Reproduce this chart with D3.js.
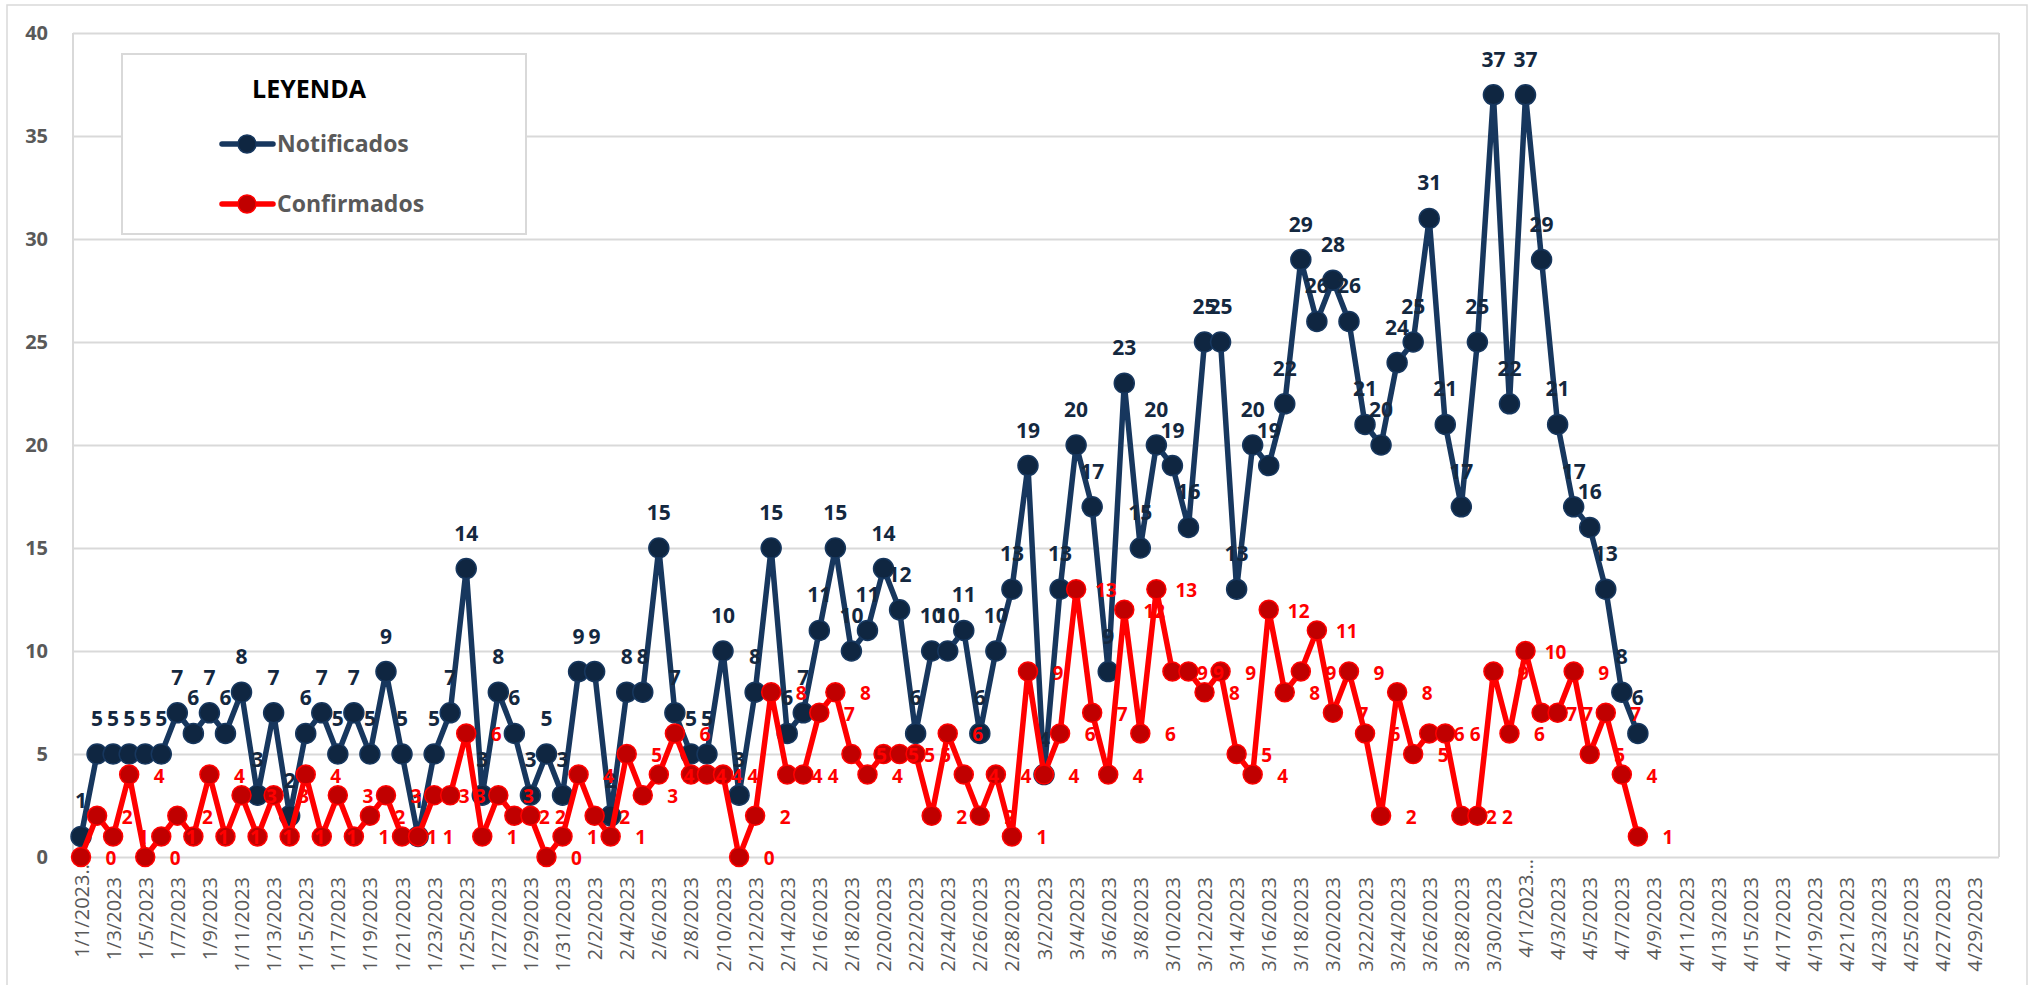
<!DOCTYPE html>
<html>
<head>
<meta charset="utf-8">
<script src="https://cdn.jsdelivr.net/npm/d3@7/dist/d3.min.js"></script>
<style>
  html, body { margin: 0; padding: 0; background: #fff; }
  svg { display: block; }
</style>
</head>
<body>
<svg id="chart" width="2030" height="985"></svg>
<script>
// ---------- DATA ----------
const startDate = "2023-01-01";
const endDate = "2023-05-01"; // exclusive: categories run 1/1/2023 .. 4/30/2023
const truncatedLabels = ["1/1/2023", "4/1/2023"]; // labels shown with an ellipsis

const notificados = [
  1,5,5,5,5,5,7,6,7,6,8,3,7,2,6,7,5,7,5,9,5,1,5,7,14,3,8,6,3,5,3,
  9,9,2,8,8,15,7,5,5,10,3,8,15,6,7,11,15,10,11,14,12,6,10,10,11,6,10,13,
  19,4,13,20,17,9,23,15,20,19,16,25,25,13,20,19,22,29,26,28,26,21,20,24,25,31,21,17,25,37,22,
  37,29,21,17,16,13,8,6
];
const confirmados = [
  0,2,1,4,0,1,2,1,4,1,3,1,3,1,4,1,3,1,2,3,1,1,3,3,6,1,3,2,2,0,1,
  4,2,1,5,3,4,6,4,4,4,0,2,8,4,4,7,8,5,4,5,5,5,2,6,4,2,4,1,
  9,4,6,13,7,4,12,6,13,9,9,8,9,5,4,12,8,9,11,7,9,6,2,8,5,6,6,2,2,9,6,
  10,7,7,9,5,7,4,1
];
const yTicks = [0, 5, 10, 15, 20, 25, 30, 35, 40];
const seriesNames = ["Notificados", "Confirmados"];
const legendTitle = "LEYENDA";

// ---------- LAYOUT ----------
const W = 2030, H = 985;
const plot = { left: 73, right: 1999, top: 33, bottom: 857 };
const FONT = "'Open Sans', 'Liberation Sans', sans-serif";
const GRID = "#D9D9D9";
const GRAY = "#595959";
const BLUE_LINE = "#17375E", BLUE_FILL = "#0F2641", BLUE_TEXT = "#14283F";
const RED_LINE = "#FF0000", RED_FILL = "#C00000", RED_TEXT = "#FF0000";

const parse = d3.timeParse("%Y-%m-%d");
const dates = d3.timeDay.range(parse(startDate), parse(endDate));
const fmt = d3.timeFormat("%-m/%-d/%Y");
const cats = dates.map(fmt);

const svg = d3.select("#chart");
svg.append("rect").attr("width", W).attr("height", H).attr("fill", "#fff");
// outer chart frame
svg.append("rect").attr("x", 7).attr("y", 5).attr("width", 2020).attr("height", 1000)
  .attr("fill", "none").attr("stroke", GRID).attr("stroke-width", 1.5);

const x = d3.scaleBand().domain(cats).range([plot.left, plot.right]).padding(0);
const cx = c => x(c) + x.bandwidth() / 2;
const y = d3.scaleLinear().domain([0, 40]).range([plot.bottom, plot.top]);

// gridlines
const yAxis = d3.axisLeft(y).tickValues(yTicks).tickSize(-(plot.right - plot.left)).tickPadding(25);
const gy = svg.append("g").attr("transform", `translate(${plot.left},0)`).call(yAxis);
gy.select(".domain").remove();
gy.selectAll(".tick line").attr("stroke", GRID).attr("stroke-width", 2);
gy.selectAll(".tick text").attr("fill", GRAY).attr("font-family", FONT)
  .attr("font-size", 20).attr("font-weight", 700);
// plot border (left/right)
svg.append("line").attr("x1", plot.left).attr("x2", plot.left).attr("y1", plot.top).attr("y2", plot.bottom)
  .attr("stroke", GRID).attr("stroke-width", 2);
svg.append("line").attr("x1", plot.right).attr("x2", plot.right).attr("y1", plot.top).attr("y2", plot.bottom)
  .attr("stroke", GRID).attr("stroke-width", 2);

// x labels: every second day
const xAxis = d3.axisBottom(x).tickValues(cats.filter((d, i) => i % 2 === 0)).tickSize(0)
  .tickFormat(d => truncatedLabels.includes(d) ? d + "…" : d);
const gx = svg.append("g").attr("transform", `translate(0,${plot.bottom})`).call(xAxis);
gx.select(".domain").remove();
gx.selectAll(".tick text")
  .attr("fill", GRAY).attr("font-family", FONT).attr("font-size", 20)
  .attr("text-anchor", "end")
  .attr("dominant-baseline", "central")
  .attr("dy", null)
  .attr("transform", d => `translate(0,${truncatedLabels.includes(d) ? 2 : 20}) rotate(-90)`)
  .attr("x", 0).attr("y", 0);

// ---------- SERIES ----------
const blueData = notificados.map((v, i) => ({ c: cats[i], v }));
const redData = confirmados.map((v, i) => ({ c: cats[i], v }));
const line = d3.line().x(d => cx(d.c)).y(d => y(d.v));

// Notificados
svg.append("path").datum(blueData).attr("d", line).attr("fill", "none")
  .attr("stroke", BLUE_LINE).attr("stroke-width", 5.5).attr("stroke-linejoin", "round");
svg.append("g").selectAll("circle").data(blueData).join("circle")
  .attr("cx", d => cx(d.c)).attr("cy", d => y(d.v)).attr("r", 10)
  .attr("fill", BLUE_FILL).attr("stroke", BLUE_LINE).attr("stroke-width", 1.5);
svg.append("g").selectAll("text").data(blueData).join("text")
  .attr("x", d => cx(d.c)).attr("y", d => y(d.v) - 28)
  .attr("text-anchor", "middle").attr("font-family", FONT).attr("font-size", 21)
  .attr("font-weight", 700).attr("fill", BLUE_TEXT).text(d => d.v);

// Confirmados
svg.append("path").datum(redData).attr("d", line).attr("fill", "none")
  .attr("stroke", RED_LINE).attr("stroke-width", 5.5).attr("stroke-linejoin", "round");
svg.append("g").selectAll("circle").data(redData).join("circle")
  .attr("cx", d => cx(d.c)).attr("cy", d => y(d.v)).attr("r", 9.5)
  .attr("fill", RED_FILL).attr("stroke", RED_LINE).attr("stroke-width", 1.5);
svg.append("g").selectAll("text").data(redData).join("text")
  .attr("x", d => cx(d.c) + 30).attr("y", d => y(d.v) + 8)
  .attr("text-anchor", "middle").attr("font-family", FONT).attr("font-size", 19)
  .attr("font-weight", 700).attr("fill", RED_TEXT).text(d => d.v);

// ---------- LEGEND ----------
const lg = svg.append("g");
lg.append("rect").attr("x", 122).attr("y", 54).attr("width", 404).attr("height", 180)
  .attr("fill", "#fff").attr("stroke", GRID).attr("stroke-width", 2);
lg.append("text").attr("x", 309).attr("y", 98).attr("text-anchor", "middle")
  .attr("font-family", FONT).attr("font-size", 25).attr("font-weight", 700).attr("fill", "#000")
  .text(legendTitle);
const legendItems = [
  { name: seriesNames[0], line: BLUE_LINE, fill: BLUE_FILL, yy: 144 },
  { name: seriesNames[1], line: RED_LINE, fill: RED_FILL, yy: 204 }
];
legendItems.forEach(it => {
  lg.append("line").attr("x1", 222).attr("x2", 273).attr("y1", it.yy).attr("y2", it.yy)
    .attr("stroke", it.line).attr("stroke-width", 5.5).attr("stroke-linecap", "round");
  lg.append("circle").attr("cx", 247).attr("cy", it.yy).attr("r", 9)
    .attr("fill", it.fill).attr("stroke", it.line).attr("stroke-width", 1.5);
  lg.append("text").attr("x", 277).attr("y", it.yy + 8)
    .attr("font-family", FONT).attr("font-size", 23).attr("font-weight", 700).attr("fill", GRAY)
    .text(it.name);
});
</script>
</body>
</html>
